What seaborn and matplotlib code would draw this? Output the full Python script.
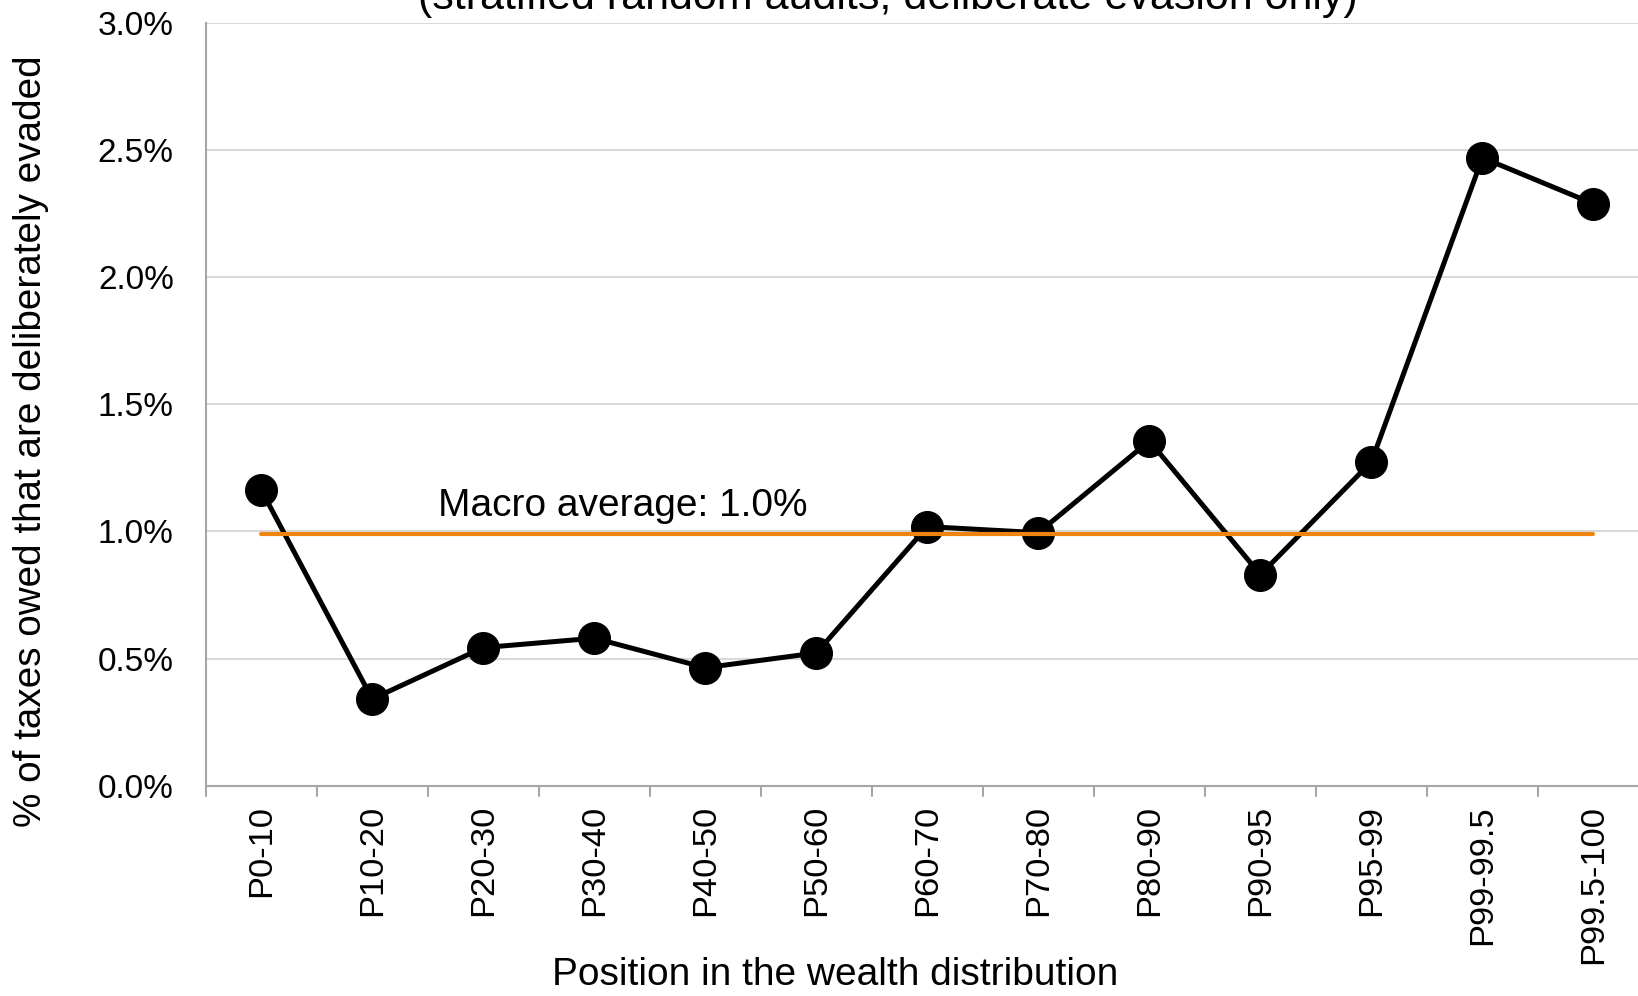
import matplotlib
matplotlib.use("Agg")
import matplotlib.pyplot as plt
import seaborn as sns
import pandas as pd
from matplotlib.ticker import FuncFormatter, FixedLocator

categories = ["P0-10", "P10-20", "P20-30", "P30-40", "P40-50", "P50-60", "P60-70",
              "P70-80", "P80-90", "P90-95", "P95-99", "P99-99.5", "P99.5-100"]
evaded_pct = [1.163, 0.341, 0.543, 0.580, 0.464, 0.522, 1.019,
              0.995, 1.356, 0.830, 1.274, 2.470, 2.289]
macro_average = 0.99
macro_label = "Macro average: 1.0%"
title = "(stratified random audits; deliberate evasion only)"
xlabel = "Position in the wealth distribution"
ylabel = "% of taxes owed that are deliberately evaded"
yticks = [0.0, 0.5, 1.0, 1.5, 2.0, 2.5, 3.0]

sns.set_theme(style="white")
plt.rcParams["font.family"] = ["Liberation Sans", "DejaVu Sans"]
plt.rcParams["text.color"] = "black"
plt.rcParams["xtick.color"] = "black"
plt.rcParams["ytick.color"] = "black"

df = pd.DataFrame({"cat": categories, "val": evaded_pct,
                   "avg": [macro_average] * len(categories)})

fig = plt.figure(figsize=(16.38, 9.96), dpi=100)
ax = fig.add_axes([0.1256, 0.2112, 0.8811, 0.7657])

for y in yticks[1:]:
    ax.axhline(y, color="#D9D9D9", lw=1.5, zorder=0)

sns.lineplot(data=df, x="cat", y="val", ax=ax, color="black", lw=3.6,
             marker="o", markersize=23, markeredgecolor="black", zorder=3, sort=False)
sns.lineplot(data=df, x="cat", y="avg", ax=ax, color="#EE8510", lw=3.0,
             zorder=4, sort=False, solid_capstyle="round")

ax.set_xlim(-0.5, len(categories) - 0.5)
ax.set_ylim(0, 3.0)
ax.yaxis.set_major_locator(FixedLocator(yticks))
ax.yaxis.set_major_formatter(FuncFormatter(lambda v, p: f"{v:.1f}%"))
ax.tick_params(axis="y", length=0, labelsize=24, pad=23, colors="black")

ax.set_xticks(range(len(categories)))
ax.set_xticklabels(categories, rotation=90, fontsize=24.8)
ax.tick_params(axis="x", length=0, pad=14, colors="black")
for b in range(len(categories) + 1):
    ax.plot([b - 0.5, b - 0.5], [0, -0.04], color="#A6A6A6", lw=1.5,
            clip_on=False, zorder=1)

for s in ["top", "right"]:
    ax.spines[s].set_visible(False)
ax.spines["left"].set_color("#A6A6A6")
ax.spines["bottom"].set_color("#A6A6A6")
ax.spines["left"].set_linewidth(1.5)
ax.spines["bottom"].set_linewidth(1.5)

ax.set_xlabel("")
ax.set_ylabel("")
ax.text(3.26, 1.06, macro_label, fontsize=28, ha="center", va="baseline",
        color="black", zorder=5)

fig.text(0.510, 0.021, xlabel, fontsize=28, ha="center", va="center", color="black")
fig.text(0.019, 0.557, ylabel, fontsize=27.8, ha="center", va="center",
         rotation=90, color="black")
fig.text(0.542, 1 - 9 / 996, title, fontsize=31, ha="center", va="baseline",
         color="black")

fig.savefig("out.png", dpi=100)
